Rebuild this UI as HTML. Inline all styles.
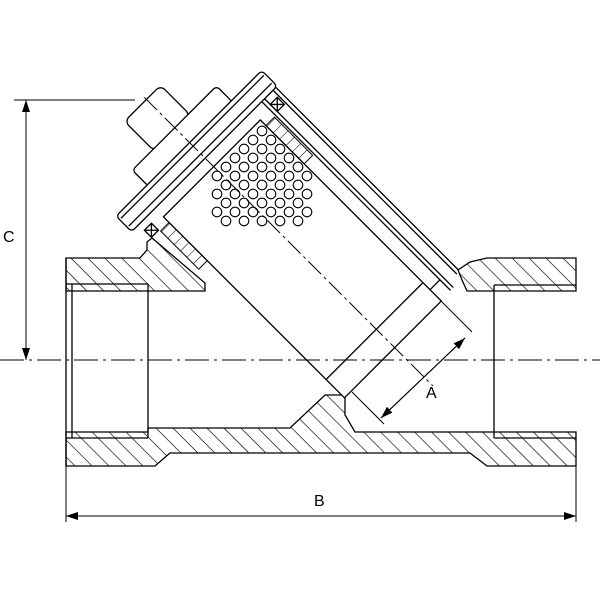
<!DOCTYPE html>
<html><head><meta charset="utf-8"><style>body{margin:0;background:#fff}svg{display:block}</style></head><body>
<svg width="600" height="600" viewBox="0 0 600 600" xmlns="http://www.w3.org/2000/svg" font-family="Liberation Sans, sans-serif">
<defs>
<pattern id="hg" width="12" height="12" patternUnits="userSpaceOnUse" patternTransform="rotate(45)"><line x1="0" y1="0" x2="12" y2="0" stroke="#000" stroke-width="1.3"/></pattern>
<pattern id="sq" width="9" height="12" patternUnits="userSpaceOnUse"><line x1="0" y1="0" x2="0" y2="12" stroke="#000" stroke-width="1"/></pattern>
<marker id="ar" markerWidth="12" markerHeight="8" refX="12" refY="4" orient="auto" markerUnits="userSpaceOnUse"><path d="M0,0 L12,4 L0,8 z" fill="#000"/></marker>
</defs>
<g stroke="#000" stroke-width="1.3" fill="none">
<polygon points="66,258 140,258 147,250 147,242 152,238 205,283 205,291 66,291" fill="url(#hg)"/>
<polygon points="458,270 470,262 487,258 576,258 576,291 467,291 462,280" fill="url(#hg)"/>
<polygon points="66,432 148,432 148,428 290,428 325,395 345,395 345,415 355,432 576,432 576,466 487,466 470,453 170,453 155,466 66,466" fill="url(#hg)"/>
<line x1="66" y1="284" x2="148" y2="284"/><line x1="66" y1="438" x2="148" y2="438"/>
<line x1="494" y1="285" x2="576" y2="285"/><line x1="494" y1="438" x2="576" y2="438"/>
<line x1="72" y1="284" x2="72" y2="438"/>
<line x1="148" y1="284" x2="148" y2="438"/>
<line x1="494" y1="285" x2="494" y2="438"/>
<line x1="66" y1="258" x2="66" y2="466"/>
<g transform="translate(150,103) rotate(45)">
<rect x="-5" y="-20" width="42" height="51" rx="6" fill="#fff"/>
<rect x="35" y="-59" width="23" height="119" rx="4" fill="#fff"/>
<rect x="56" y="-102" width="22" height="206" rx="4" fill="#fff"/>
<line x1="61" y1="-100" x2="61" y2="102"/><line x1="72" y1="-100" x2="72" y2="102"/>
<line x1="78" y1="-100" x2="336" y2="-100"/>
<line x1="78" y1="-96" x2="338" y2="-96"/>
<line x1="78" y1="-84" x2="345" y2="-84"/>
<line x1="78" y1="-80" x2="345" y2="-80"/>
<rect x="90" y="-66" width="256" height="137" fill="#fff"/>
<line x1="320" y1="-66" x2="320" y2="71"/>
<line x1="330" y1="-80" x2="330" y2="-66"/>
<g stroke-width="1">
<rect x="98" y="-78" width="54" height="12" fill="url(#sq)"/>
<rect x="98" y="71" width="54" height="12" fill="url(#sq)"/>
</g>
<rect x="86" y="-94" width="10" height="10" fill="#fff"/><path d="M86,-94 l10,10 M96,-94 l-10,10"/>
<rect x="86" y="84" width="10" height="10" fill="#fff"/><path d="M86,84 l10,10 M96,84 l-10,10"/>
<line x1="-8" y1="0" x2="400" y2="0" stroke-width="1" stroke-dasharray="18,4,3,4"/>
</g>
<g stroke-width="1.1">
<circle cx="262" cy="131" r="4.8"/>
<circle cx="253" cy="140" r="4.8"/><circle cx="271" cy="140" r="4.8"/>
<circle cx="244" cy="149" r="4.8"/><circle cx="262" cy="149" r="4.8"/><circle cx="280" cy="149" r="4.8"/>
<circle cx="235" cy="158" r="4.8"/><circle cx="253" cy="158" r="4.8"/><circle cx="271" cy="158" r="4.8"/><circle cx="289" cy="158" r="4.8"/>
<circle cx="226" cy="167" r="4.8"/><circle cx="244" cy="167" r="4.8"/><circle cx="262" cy="167" r="4.8"/><circle cx="280" cy="167" r="4.8"/><circle cx="298" cy="167" r="4.8"/>
<circle cx="217" cy="176" r="4.8"/><circle cx="235" cy="176" r="4.8"/><circle cx="253" cy="176" r="4.8"/><circle cx="271" cy="176" r="4.8"/><circle cx="289" cy="176" r="4.8"/><circle cx="307" cy="176" r="4.8"/>
<circle cx="226" cy="185" r="4.8"/><circle cx="244" cy="185" r="4.8"/><circle cx="262" cy="185" r="4.8"/><circle cx="280" cy="185" r="4.8"/><circle cx="298" cy="185" r="4.8"/>
<circle cx="217" cy="194" r="4.8"/><circle cx="235" cy="194" r="4.8"/><circle cx="253" cy="194" r="4.8"/><circle cx="271" cy="194" r="4.8"/><circle cx="289" cy="194" r="4.8"/><circle cx="307" cy="194" r="4.8"/>
<circle cx="226" cy="203" r="4.8"/><circle cx="244" cy="203" r="4.8"/><circle cx="262" cy="203" r="4.8"/><circle cx="280" cy="203" r="4.8"/><circle cx="298" cy="203" r="4.8"/>
<circle cx="217" cy="212" r="4.8"/><circle cx="235" cy="212" r="4.8"/><circle cx="253" cy="212" r="4.8"/><circle cx="271" cy="212" r="4.8"/><circle cx="289" cy="212" r="4.8"/><circle cx="307" cy="212" r="4.8"/>
<circle cx="226" cy="221" r="4.8"/><circle cx="244" cy="221" r="4.8"/><circle cx="262" cy="221" r="4.8"/><circle cx="280" cy="221" r="4.8"/><circle cx="298" cy="221" r="4.8"/>
</g>
<line x1="0" y1="360" x2="600" y2="360" stroke-width="1" stroke-dasharray="24,5,3,5"/>
<line x1="14" y1="100" x2="135" y2="100" stroke-width="1"/>
<line x1="26" y1="360" x2="26" y2="100" stroke-width="1" marker-end="url(#ar)"/>
<line x1="26" y1="100" x2="26" y2="360" stroke-width="1" marker-end="url(#ar)"/>
<line x1="66" y1="466" x2="66" y2="522" stroke-width="1"/>
<line x1="576" y1="466" x2="576" y2="522" stroke-width="1"/>
<line x1="66" y1="516" x2="576" y2="516" stroke-width="1" marker-end="url(#ar)"/>
<line x1="576" y1="516" x2="66" y2="516" stroke-width="1" marker-end="url(#ar)"/>
<line x1="440" y1="300" x2="472" y2="332" stroke-width="1"/>
<line x1="352" y1="392" x2="384" y2="424" stroke-width="1"/>
<line x1="381" y1="418" x2="465" y2="338" stroke-width="1" marker-end="url(#ar)"/>
<line x1="465" y1="338" x2="381" y2="418" stroke-width="1" marker-end="url(#ar)"/>
</g>
<g font-size="16" fill="#000">
<text x="3" y="242">C</text>
<text x="314" y="506">B</text>
<text x="426" y="398">A</text>
</g>
</svg>
</body></html>
